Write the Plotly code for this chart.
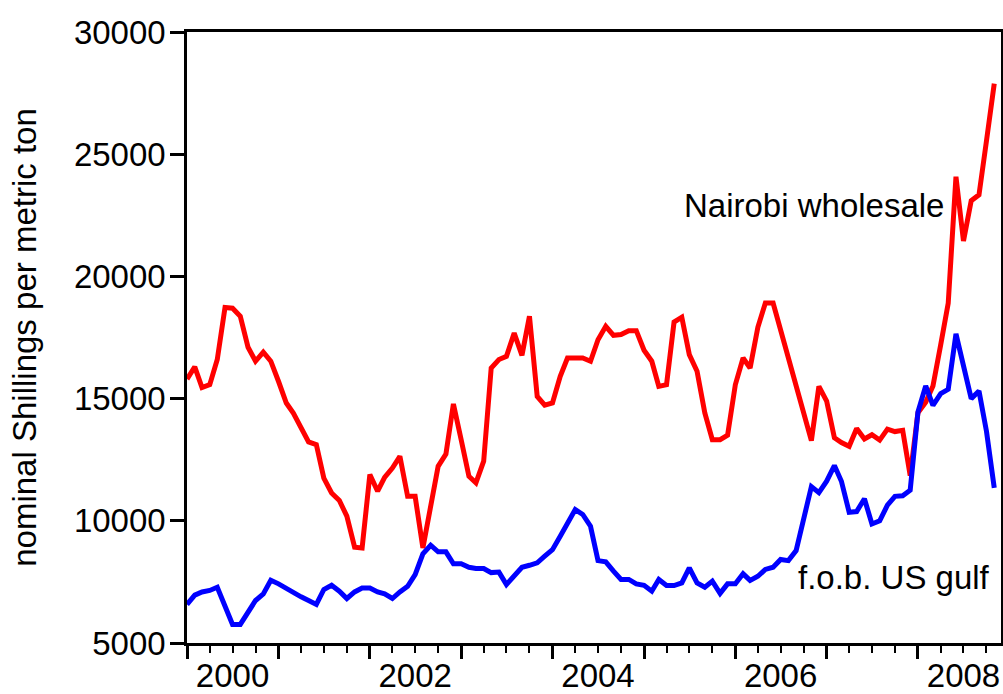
import pandas as pd
import plotly.graph_objects as go

# Monthly observations, Jan 2000 .. Nov 2008
months = pd.date_range("2000-01-01", periods=107, freq="MS")

nairobi_wholesale = [
    15800, 16300, 15450, 15570, 16600, 18730, 18700, 18370, 17100, 16530, 16900, 16530,  # 2000
    15700, 14820, 14410, 13800, 13230, 13120, 11750, 11140, 10830, 10190, 8920, 8890,     # 2001
    11890, 11210, 11780, 12160, 12640, 11000, 11000, 8890, 10530, 12230, 12730, 14780,    # 2002
    13320, 11820, 11550, 12440, 16250, 16600, 16730, 17680, 16770, 18370, 15090, 14730,   # 2003
    14820, 15910, 16660, 16660, 16660, 16530, 17410, 17960, 17590, 17620, 17780, 17780,   # 2004
    16980, 16530, 15500, 15570, 18130, 18330, 16800, 16120, 14410, 13320, 13320, 13500,   # 2005
    15570, 16660, 16250, 17920, 18910, 18910, 17800, 16700, 15550, 14420, 13280, 15500,   # 2006
    14900, 13400, 13200, 13050, 13780, 13350, 13520, 13300, 13750, 13650, 13700, 11850,   # 2007
    14420, 14850, 15520, 17200, 18900, 24080, 21450, 23100, 23340, 25550, 27890,          # 2008
]

fob_us_gulf = [
    6580, 6960, 7090, 7150, 7280, 6510, 5760, 5760, 6300, 6740, 7010, 7570,               # 2000
    7420, 7230, 7050, 6890, 6740, 6580, 7190, 7360, 7120, 6820, 7090, 7250,               # 2001
    7250, 7090, 7010, 6820, 7090, 7320, 7800, 8650, 9000, 8730, 8730, 8240,               # 2002
    8240, 8100, 8050, 8050, 7880, 7900, 7390, 7730, 8100, 8180, 8280, 8550,               # 2003
    8820, 9370, 9910, 10460, 10260, 9780, 8370, 8320, 7940, 7600, 7600, 7420,             # 2004
    7360, 7120, 7600, 7350, 7350, 7460, 8070, 7460, 7280, 7530, 7030, 7420,               # 2005
    7420, 7830, 7560, 7730, 8010, 8100, 8420, 8370, 8780, 10100, 11400, 11150,            # 2006
    11620, 12260, 11620, 10350, 10380, 10900, 9870, 10000, 10640, 11000, 11020, 11250,    # 2007
    14450, 15520, 14720, 15200, 15380, 17650, 16400, 15000, 15310, 13660, 11350,          # 2008
]

year_ticks = [f"{y}-01-01" for y in range(2000, 2009)]
label_years = [2000, 2002, 2004, 2006, 2008]
label_pos = [f"{y}-07-01" for y in label_years]
label_text = [str(y) for y in label_years]
y_ticks = [5000, 10000, 15000, 20000, 25000, 30000]

x_range = ["2000-01-01", "2008-11-28"]
FONT = "Liberation Sans, Arial, sans-serif"
FS = 33

fig = go.Figure()
fig.add_trace(go.Scatter(x=months, y=nairobi_wholesale, mode="lines",
                         line=dict(color="#ff0000", width=5), name="Nairobi wholesale",
                         xaxis="x", yaxis="y"))
fig.add_trace(go.Scatter(x=months, y=fob_us_gulf, mode="lines",
                         line=dict(color="#0000ff", width=5), name="f.o.b. US gulf",
                         xaxis="x2", yaxis="y"))

fig.update_layout(
    width=1003, height=694,
    margin=dict(l=187, r=2, t=32, b=51, autoexpand=False),
    paper_bgcolor="white", plot_bgcolor="white",
    showlegend=False,
    font=dict(family=FONT, size=FS, color="black"),
    xaxis=dict(
        type="date", range=x_range, automargin=False,
        tickvals=year_ticks, showticklabels=False,
        ticks="outside", ticklen=13, tickwidth=2.5, tickcolor="black",
        minor=dict(dtick="M3", tick0="2000-01-01", ticks="outside", ticklen=7,
                   tickwidth=2, tickcolor="black", showgrid=False),
        showgrid=False, zeroline=False,
        showline=True, linecolor="black", linewidth=2.5, mirror=True,
    ),
    xaxis2=dict(
        type="date", range=x_range, overlaying="x", anchor="y", side="bottom",
        automargin=False,
        tickvals=label_pos, ticktext=label_text,
        ticks="outside", ticklen=3, tickcolor="rgba(0,0,0,0)",
        tickfont=dict(family=FONT, size=FS, color="black"),
        showgrid=False, zeroline=False, showline=False,
    ),
    yaxis=dict(
        range=[5000, 30000], tickvals=y_ticks, ticktext=[str(v) for v in y_ticks],
        automargin=False,
        ticks="outside", ticklen=14, tickwidth=2.5, tickcolor="black",
        ticklabelstandoff=-2,
        tickfont=dict(family=FONT, size=FS, color="black"),
        showgrid=False, zeroline=False,
        showline=True, linecolor="black", linewidth=2.5, mirror=True,
        title=dict(text="nominal Shillings per metric ton",
                   font=dict(family=FONT, size=FS, color="black"), standoff=28),
    ),
)

fig.add_annotation(x="2005-06-01", y=22920, text="Nairobi wholesale", showarrow=False,
                   xanchor="left", yanchor="middle",
                   font=dict(family=FONT, size=FS, color="black"))
fig.add_annotation(x="2006-09-01", y=7660, text="f.o.b. US gulf", showarrow=False,
                   xanchor="left", yanchor="middle",
                   font=dict(family=FONT, size=FS, color="black"))

# remove the default 8px page margin so the 1003x694 figure fills the window exactly
fig.write_html(
    "out.html",
    config={"displayModeBar": False},
    post_script="document.body.style.margin='0';"
                "document.documentElement.style.overflow='hidden';",
)
